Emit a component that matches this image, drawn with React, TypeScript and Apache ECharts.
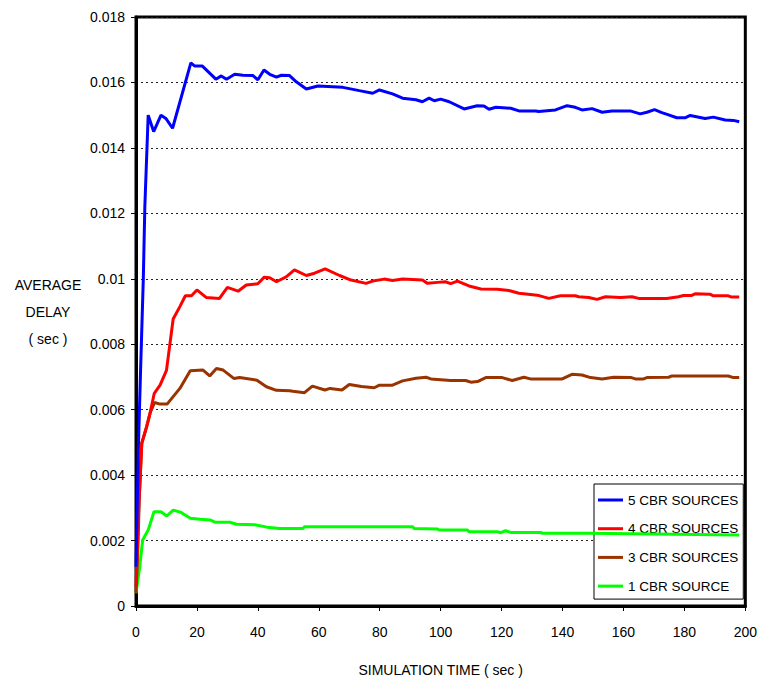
import React, { useEffect, useRef } from "react";
import * as echarts from "echarts";

// Simulation time (sec), average delay in milliseconds (converted to seconds for plotting)
const fiveCbrSources: [number, number][] = [
  [0, 1.2], [0.8, 4.9], [1.5, 7.2], [2.4, 10.0], [2.9, 12.2], [4.0, 15.0], [5.8, 14.5], [8.2, 15.0],
  [9.8, 14.9], [12.0, 14.6], [18.0, 16.6], [19.3, 16.5], [21.8, 16.5], [26.2, 16.1], [28.0, 16.2],
  [29.7, 16.1], [32.4, 16.25], [35.1, 16.22], [38.4, 16.21], [40.0, 16.08], [42.0, 16.38], [43.9, 16.25],
  [46.1, 16.16], [47.7, 16.22], [50.4, 16.21], [52.6, 16.02], [55.9, 15.8], [59.7, 15.89], [67.9, 15.85],
  [73.3, 15.75], [77.7, 15.67], [79.9, 15.77], [84.2, 15.65], [87.5, 15.52], [91.9, 15.47], [94.0, 15.41],
  [96.2, 15.52], [97.9, 15.44], [100.0, 15.49], [102.8, 15.41], [107.7, 15.19], [112.0, 15.29],
  [114.2, 15.28], [115.9, 15.18], [118.1, 15.24], [123.0, 15.21], [125.7, 15.13], [131.2, 15.13],
  [132.2, 15.11], [137.7, 15.16], [141.5, 15.29], [144.2, 15.24], [146.4, 15.16], [149.7, 15.2],
  [153.0, 15.09], [156.2, 15.13], [162.2, 15.13], [165.5, 15.04], [167.7, 15.09], [170.2, 15.17],
  [172.6, 15.08], [174.8, 15.01], [177.5, 14.92], [180.2, 14.92], [181.9, 14.99], [186.8, 14.9],
  [189.5, 14.94], [193.4, 14.85], [196.1, 14.84], [198.0, 14.8],
];

const fourCbrSources: [number, number][] = [
  [0, 0.6], [0.8, 2.8], [1.5, 4.2], [1.9, 4.98], [3.5, 5.48], [4.6, 5.89], [6.0, 6.5], [7.9, 6.75],
  [10.0, 7.2], [12.2, 8.77], [14.4, 9.15], [16.2, 9.48], [18.2, 9.48], [20.0, 9.66], [23.0, 9.43],
  [27.4, 9.4], [30.0, 9.74], [33.5, 9.62], [36.2, 9.81], [40.0, 9.85], [42.1, 10.05], [43.9, 10.03],
  [46.1, 9.91], [49.3, 10.06], [52.0, 10.27], [55.9, 10.1], [58.6, 10.17], [62.1, 10.3], [66.8, 10.1],
  [70.6, 9.96], [75.5, 9.86], [77.7, 9.93], [81.5, 9.99], [84.2, 9.95], [87.5, 9.99], [94.0, 9.96],
  [95.7, 9.86], [99.0, 9.89], [101.5, 9.91], [103.3, 9.85], [105.5, 9.93], [109.3, 9.78], [113.2, 9.69],
  [118.6, 9.68], [122.4, 9.64], [125.7, 9.56], [131.7, 9.5], [135.5, 9.4], [139.3, 9.48], [144.2, 9.48],
  [145.3, 9.45], [148.6, 9.43], [151.3, 9.37], [154.1, 9.45], [159.0, 9.43], [162.8, 9.45], [165.0, 9.4],
  [174.2, 9.4], [178.1, 9.45], [179.7, 9.49], [182.4, 9.49], [183.5, 9.54], [188.4, 9.53], [189.5, 9.48],
  [194.4, 9.48], [195.5, 9.44], [198.0, 9.44],
];

const threeCbrSources: [number, number][] = [
  [0, 0.4], [0.5, 1.4], [1.1, 3.34], [1.9, 4.97], [3.5, 5.48], [4.6, 5.89], [6.1, 6.22], [7.9, 6.17],
  [10.2, 6.17], [14.4, 6.65], [17.8, 7.19], [22.0, 7.21], [24.2, 7.03], [26.4, 7.26], [28.6, 7.21],
  [32.2, 6.95], [34.0, 6.98], [39.7, 6.9], [42.8, 6.7], [46.1, 6.59], [50.4, 6.58], [51.5, 6.56],
  [55.3, 6.52], [57.9, 6.72], [62.0, 6.6], [63.7, 6.65], [67.6, 6.6], [70.0, 6.77], [74.0, 6.71],
  [78.2, 6.67], [79.9, 6.75], [84.2, 6.75], [87.5, 6.88], [91.9, 6.96], [95.2, 6.99], [96.8, 6.94],
  [103.3, 6.89], [108.2, 6.89], [109.9, 6.84], [112.1, 6.86], [114.8, 6.98], [120.2, 6.98], [123.5, 6.89],
  [127.3, 6.99], [129.5, 6.94], [139.9, 6.94], [143.1, 7.08], [146.4, 7.06], [149.2, 6.98], [153.0, 6.94],
  [156.8, 6.99], [162.6, 6.98], [163.9, 6.94], [166.6, 6.94], [167.7, 6.98], [174.8, 6.99], [175.9, 7.03],
  [194.4, 7.03], [196.1, 6.98], [198.0, 6.98],
];

const oneCbrSource: [number, number][] = [
  [0, 0.39], [1.1, 1.1], [2.2, 2.02], [4.0, 2.32], [5.9, 2.88], [8.2, 2.88], [10.1, 2.75], [12.2, 2.93],
  [14.8, 2.86], [17.8, 2.68], [21.0, 2.65], [24.3, 2.63], [25.9, 2.56], [30.8, 2.56], [33.0, 2.5],
  [39.0, 2.48], [43.0, 2.41], [47.1, 2.37], [54.8, 2.37], [55.3, 2.42], [90.8, 2.42], [91.3, 2.37],
  [99.0, 2.35], [99.5, 2.32], [108.8, 2.32], [109.3, 2.27], [118.6, 2.27], [119.7, 2.24], [121.3, 2.3],
  [123.0, 2.25], [132.8, 2.25], [133.3, 2.22], [148.6, 2.22], [170.0, 2.2], [198.0, 2.17],
];

const seriesNames = ["5 CBR SOURCES", "4 CBR SOURCES", "3 CBR SOURCES", "1 CBR SOURCE"];
const seriesColors = ["#0000ff", "#ff0000", "#993300", "#00ff00"];
const seriesData = [fiveCbrSources, fourCbrSources, threeCbrSources, oneCbrSource];

const xAxisTitle = "SIMULATION TIME ( sec )";
const yAxisTitle = "AVERAGE\nDELAY\n( sec )";

const FONT = "'Liberation Sans', Arial, sans-serif";

export default function App() {
  const ref = useRef<HTMLDivElement>(null);

  useEffect(() => {
    if (!ref.current) return;
    const chart = echarts.init(ref.current, undefined, { renderer: "svg" });
    const option: any = {
      animation: false,
      backgroundColor: "#ffffff",
      textStyle: { fontFamily: FONT, color: "#000" },
      grid: {
        left: 136,
        right: 13,
        top: 17,
        bottom: 79,
        show: true,
        borderColor: "#000",
        borderWidth: 3,
        containLabel: false,
      },
      xAxis: {
        type: "value",
        min: 0,
        max: 200,
        interval: 20,
        name: xAxisTitle,
        nameLocation: "middle",
        nameGap: 57,
        nameTextStyle: { color: "#000", fontSize: 14, fontFamily: FONT },
        axisLine: { show: true, onZero: false, lineStyle: { color: "#000", width: 3 } },
        axisTick: { show: true, length: 5, lineStyle: { color: "#000", width: 1 } },
        axisLabel: { color: "#000", fontSize: 14, margin: 19, fontFamily: FONT },
        splitLine: { show: false },
      },
      yAxis: {
        type: "value",
        min: 0,
        max: 0.018,
        interval: 0.002,
        axisLine: { show: true, onZero: false, lineStyle: { color: "#000", width: 3 } },
        axisTick: { show: true, length: 5, lineStyle: { color: "#000", width: 1 } },
        axisLabel: {
          color: "#000",
          fontSize: 14,
          margin: 11,
          fontFamily: FONT,
          formatter: (v: number) => (v === 0 ? "0" : String(+v.toFixed(3))),
        },
        splitLine: { show: true, lineStyle: { color: "#222", width: 1, type: [2, 3] } },
      },
      legend: {
        orient: "vertical",
        left: 594,
        top: 484,
        data: seriesNames,
        icon: "rect",
        itemWidth: 25,
        itemHeight: 3,
        itemGap: 14.7,
        padding: [9, 5, 6, 4],
        backgroundColor: "#fff",
        borderColor: "#000",
        borderWidth: 1,
        selectedMode: false,
        textStyle: { color: "#000", fontSize: 13.5, fontFamily: FONT },
      },
      graphic: [
        {
          type: "text",
          x: 48,
          y: 312,
          style: {
            text: yAxisTitle,
            fill: "#000",
            font: `14px ${FONT}`,
            fontSize: 14,
            fontFamily: FONT,
            lineHeight: 27,
            align: "center",
            verticalAlign: "middle",
            textAlign: "center",
            textVerticalAlign: "middle",
          },
        },
      ],
      series: seriesData.map((d, i) => ({
        name: seriesNames[i],
        type: "line",
        data: d.map(([t, ms]) => [t, ms / 1000]),
        showSymbol: false,
        symbol: "none",
        color: seriesColors[i],
        lineStyle: { color: seriesColors[i], width: 3 },
        z: 10 - i,
      })),
    };
    chart.setOption(option);
    return () => chart.dispose();
  }, []);

  return (
    <div
      ref={ref}
      style={{ position: "fixed", left: 0, top: 0, width: 760, height: 685, background: "#fff" }}
    />
  );
}
